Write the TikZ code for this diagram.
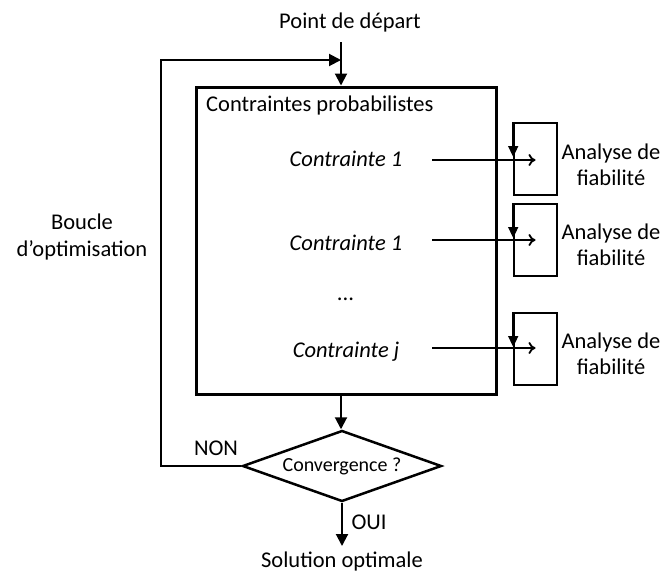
\documentclass[tikz,border=0pt]{standalone}
\usepackage{fontspec}
\setmainfont{Carlito}
\usetikzlibrary{shapes.geometric,arrows.meta,calc}
\begin{document}
\begin{tikzpicture}[x=1pt,y=-1pt,
  txt/.style={inner sep=0pt,font=\fontsize{22.5}{26.5}\selectfont},
  ctxt/.style={inner sep=0pt,font=\fontsize{22.5}{26.5}\selectfont\itshape},
  smallbox/.style={draw,line width=1.6pt,minimum width=43pt,minimum height=72pt,inner sep=0pt},
  flow/.style={line width=2pt,-{Triangle[length=12pt,width=12pt]}},
  hook/.style={line width=1.8pt,-{To[length=7pt,width=12pt]}},
  edgemark/.style={line width=1.6pt,-{Triangle[length=11pt,width=10pt]}}]
\useasboundingbox (0,0) rectangle (663,574);
% main box
\node[draw,line width=3pt,minimum width=300pt,minimum height=307pt,inner sep=0pt] (mb) at (346,240.5) {};
\node[txt,anchor=west] (title) at (206,105) {Contraintes probabilistes};
\node[txt] (start) at (350,22) {Point de départ};
\node[ctxt] (c1) at (346,159) {Contrainte 1};
\node[ctxt] (c2) at (346,243) {Contrainte 1};
\node[ctxt] (dots) at (346,299) {...};
\node[ctxt] (cj) at (346,352) {Contrainte j};
% small boxes
\node[smallbox] (b1) at (535.5,159) {};
\node[smallbox] (b2) at (535.5,240) {};
\node[smallbox] (b3) at (535.5,349) {};
\node[txt,align=center] (f1) at (611,165) {Analyse de\\fiabilité};
\node[txt,align=center] (f2) at (611,245) {Analyse de\\fiabilité};
\node[txt,align=center] (f3) at (611,354) {Analyse de\\fiabilité};
% diamond
\node[draw,diamond,aspect=2.8,line width=2.5pt,minimum width=199pt,minimum height=71pt,inner sep=0pt,font=\fontsize{20}{24}\selectfont] (conv) at (342,466) {Convergence ?};
\node[txt] (sol) at (342,561) {Solution optimale};
\node[txt,align=center] (boucle) at (82,237) {Boucle\\d’optimisation};
\node[txt] (non) at (216,448) {NON};
\node[txt] (oui) at (369,522) {OUI};
% coordinates
\coordinate (s0) at (341,42);
\coordinate (j) at (341,60);
\coordinate (lt) at (161,60);
\coordinate (lb) at (161,466);
\coordinate (a1) at (432,160);
\coordinate (a2) at (432,240);
\coordinate (a3) at (432,348);
\coordinate (sol0) at (342,546);
% connectors
\draw[flow] (s0) -- (s0 |- mb.north);
\draw[flow] (conv.west) -- (lb) -- (lt) -- (j);
\draw[flow] (mb.south -| s0) -- (conv.north -| s0);
\draw[flow] (conv.south) -- (sol0);
\draw[hook] (a1) -- (a1 -| b1.center);
\draw[hook] (a2) -- (a2 -| b2.center);
\draw[hook] (a3) -- (a3 -| b3.center);
\draw[edgemark] (b1.north west) -- ($(b1.west)+(0,-2)$);
\draw[edgemark] (b2.north west) -- ($(b2.west)+(0,-2)$);
\draw[edgemark] (b3.north west) -- ($(b3.west)+(0,-2)$);
\end{tikzpicture}
\end{document}
